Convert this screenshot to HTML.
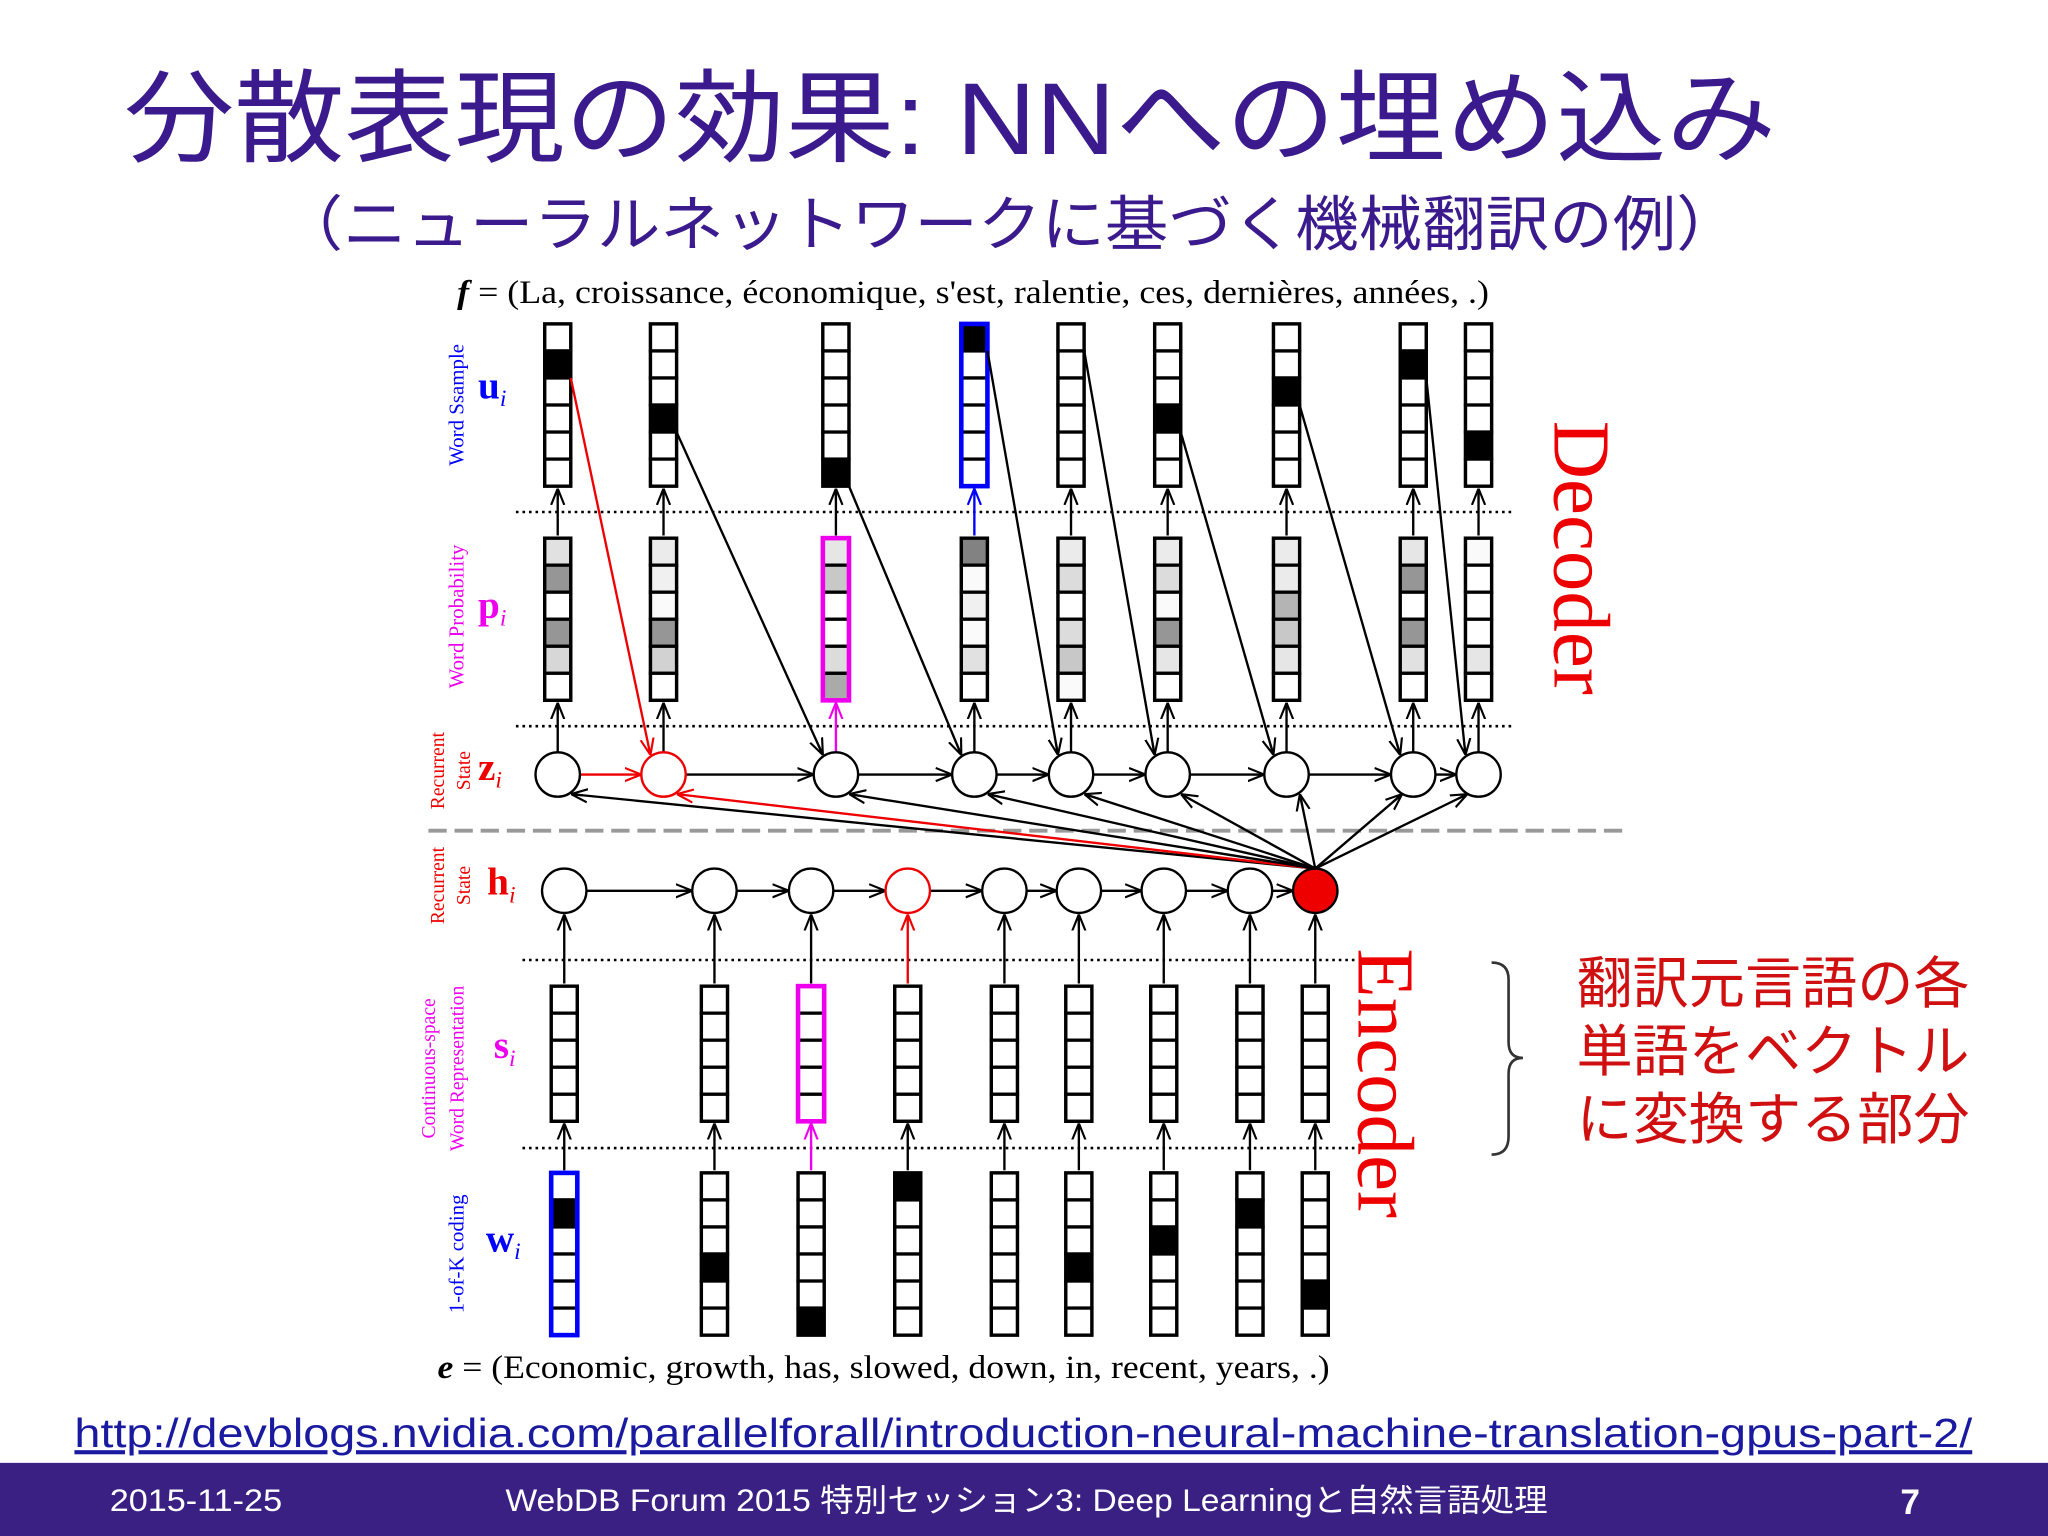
<!DOCTYPE html>
<html><head><meta charset="utf-8"><style>
html,body{margin:0;padding:0;background:#fff}
svg{display:block}
</style></head><body>
<svg id="s" width="2048" height="1536" viewBox="0 0 1568 1176" xmlns="http://www.w3.org/2000/svg">
<defs>
<marker id="ak" viewBox="0 0 10 10" refX="10" refY="5" markerWidth="7" markerHeight="7" orient="auto-start-reverse"><path d="M0,1 L10,5 L0,9 M10,5 L3,5" fill="none" stroke="#000" stroke-width="1.3"/></marker>
<marker id="ar" viewBox="0 0 10 10" refX="10" refY="5" markerWidth="7" markerHeight="7" orient="auto"><path d="M0,1 L10,5 L0,9" fill="none" stroke="#e00" stroke-width="1.3"/></marker>
<marker id="am" viewBox="0 0 10 10" refX="10" refY="5" markerWidth="7" markerHeight="7" orient="auto"><path d="M0,1 L10,5 L0,9" fill="none" stroke="#e0e" stroke-width="1.3"/></marker>
<marker id="ab" viewBox="0 0 10 10" refX="10" refY="5" markerWidth="7" markerHeight="7" orient="auto"><path d="M0,1 L10,5 L0,9" fill="none" stroke="#00f" stroke-width="1.3"/></marker>
</defs>
<text x="95" y="118" textLength="1265" lengthAdjust="spacingAndGlyphs" font-family="'Liberation Sans','Noto Sans CJK JP',sans-serif" font-size="78" fill="#3a1a8c">分散表現の効果: NNへの埋め込み</text>
<text x="214" y="188" textLength="1118" lengthAdjust="spacingAndGlyphs" font-family="'Liberation Sans','Noto Sans CJK JP',sans-serif" font-size="46" fill="#3a1a8c">（ニューラルネットワークに基づく機械翻訳の例）</text>
<text x="350" y="232" textLength="790" lengthAdjust="spacingAndGlyphs" font-family="'Liberation Serif',serif" font-size="25" fill="#000"><tspan font-style="italic" font-weight="bold">f</tspan> = (La, croissance, économique, s'est, ralentie, ces, dernières, années, .)</text>
<text x="335" y="1055" textLength="683" lengthAdjust="spacingAndGlyphs" font-family="'Liberation Serif',serif" font-size="25" fill="#000"><tspan font-style="italic" font-weight="bold">e</tspan> = (Economic, growth, has, slowed, down, in, recent, years, .)</text>
<line x1="328" y1="636" x2="1243" y2="636" stroke="#999" stroke-width="3" stroke-dasharray="14,6"/>
<g id="g"></g>
<text transform="translate(1190,322) rotate(90)" font-family="'Liberation Serif',serif" font-size="62" fill="#e00">Decoder</text>
<text transform="translate(1040,726) rotate(90)" font-family="'Liberation Serif',serif" font-size="62" fill="#e00">Encoder</text>
<path d="M1142,737 Q1155,737 1155,750 L1155,798 Q1155,810 1166,810 Q1155,810 1155,822 L1155,870 Q1155,884 1142,884" fill="none" stroke="#333" stroke-width="2"/>
<g font-family="'Liberation Sans','Noto Sans CJK JP',sans-serif" font-size="43" fill="#d01010">
<text x="1207" y="768">翻訳元言語の各</text><text x="1207" y="820">単語をベクトル</text><text x="1207" y="872">に変換する部分</text></g>
<text x="57" y="1108" textLength="1453" lengthAdjust="spacingAndGlyphs" font-family="'Liberation Sans',sans-serif" font-size="31.5" fill="#1a1aa0" text-decoration="underline">http://devblogs.nvidia.com/parallelforall/introduction-neural-machine-translation-gpus-part-2/</text>
<rect x="0" y="1120" width="1568" height="56" fill="#3b2084"/>
<text x="84" y="1157" textLength="132" lengthAdjust="spacingAndGlyphs" font-family="'Liberation Sans',sans-serif" font-size="24" fill="#fff">2015-11-25</text>
<text x="387" y="1157" textLength="798" lengthAdjust="spacingAndGlyphs" font-family="'Liberation Sans','Noto Sans CJK JP',sans-serif" font-size="24" fill="#fff">WebDB Forum 2015 特別セッション3: Deep Learningと自然言語処理</text>
<text x="1455" y="1159" font-family="'Liberation Sans',sans-serif" font-size="27" font-weight="bold" fill="#fff">7</text>
</svg>
<script>
const decX=[427,508,640,746,820,894,985,1082,1132];
const encX=[432,547,621,695,769,826,891,957,1007];
const uHot=[1,3,5,0,-1,3,2,1,4];
const wHot=[1,3,5,0,-1,3,2,1,4];
const pGray=[[225,150,255,150,215,255],[235,240,250,150,210,255],[230,200,255,255,220,170],[130,250,240,250,225,255],[235,220,255,220,200,250],[235,220,250,150,230,255],[235,235,180,200,230,255],[230,150,255,150,225,255],[250,255,255,255,230,255]];
const ns='http://www.w3.org/2000/svg', G=document.getElementById('g');
function el(t,a,p){const e=document.createElementNS(ns,t);for(const k in a)e.setAttribute(k,a[k]);(p||G).appendChild(e);return e;}
const W=20,CH=20.7,Z=593,H=682,R=17;
function col(x,y0,n,fills,stroke,sw,name){
  const g=el('g',{});
  
  
  for(let i=0;i<n;i++){el('rect',{x:x-W/2,y:y0+i*CH,width:W,height:CH,fill:fills[i],stroke:'#000','stroke-width':2.5},g);}
  el('rect',{x:x-W/2,y:y0,width:W,height:n*CH,fill:'none',stroke:stroke,'stroke-width':sw},g);
}
function line(x1,y1,x2,y2,c,m,name){const l=el('line',{x1,y1,x2,y2,stroke:c,'stroke-width':1.8,'marker-end':'url(#'+m+')'});
  
  }
[[392,395,1158],[556,395,1158],[735,400,1040],[879,400,1040]].forEach(d=>{const l=el('line',{x1:d[1],y1:d[0],x2:d[2],y2:d[0],stroke:'#000','stroke-width':2,'stroke-dasharray':'2,3'});
  
  });
const hub=[encX[8],H];
decX.forEach((x,i)=>{
  col(x,248,6,[0,1,2,3,4,5].map(k=>k===uHot[i]?'#000':'#fff'),i===3?'#00f':'#000',i===3?3.5:2.5,'word-sample-u'+i);
  col(x,412,6,pGray[i].map(v=>'rgb('+v+','+v+','+v+')'),i===2?'#e0e':'#000',i===2?3.5:2.5,'word-prob-p'+i);
  line(x,Z-R,x,538,i===2?'#e0e':'#000',i===2?'am':'ak','z-to-p-arrow');
  line(x,410,x,374,i===3?'#00f':'#000',i===3?'ab':'ak','p-to-u-arrow');
  if(i<8){const nx=decX[i+1];
    line(x+R,Z,nx-R,Z,i===0?'#e00':'#000',i===0?'ar':'ak','z-recurrent-arrow');
    if(uHot[i]>=0){const cy=248+(uHot[i]+1)*CH;line(x+W/2,cy,nx-10,Z-R+2,i===0?'#e00':'#000',i===0?'ar':'ak','feedback-arrow');}
    else {line(x+W/2,268,nx-10,Z-R+2,'#000','ak','feedback-arrow');}
  }
  line(hub[0],hub[1]-R,x+(x<hub[0]?R*0.6:-R*0.5),Z+R-2,i===1?'#e00':'#000',i===1?'ar':'ak','context-arrow');
  const c=el('ellipse',{cx:x,cy:Z,rx:R,ry:R,fill:'#fff',stroke:i===1?'#e00':'#000','stroke-width':1.8});
  
  
});
encX.forEach((x,i)=>{
  col(x,755,5,[0,1,2,3,4].map(()=>'#fff'),i===2?'#e0e':'#000',i===2?3.5:2.5,'word-rep-s'+i);
  col(x,898,6,[0,1,2,3,4,5].map(k=>k===wHot[i]?'#000':'#fff'),i===0?'#00f':'#000',i===0?3.5:2.5,'one-hot-w'+i);
  line(x,896,x,860,i===2?'#e0e':'#000',i===2?'am':'ak','w-to-s-arrow');
  line(x,753,x,H+R+1,i===3?'#e00':'#000',i===3?'ar':'ak','s-to-h-arrow');
  if(i<8)line(x+R,H,encX[i+1]-R,H,'#000','ak','h-recurrent-arrow');
  const c=el('ellipse',{cx:x,cy:H,rx:R,ry:R,fill:i===8?'#e00':'#fff',stroke:i===3?'#e00':'#000','stroke-width':1.8});
  
  
});
const labs=[[355,310,'Word Ssample','#00f',16],[355,472,'Word Probability','#e0e',16],[340,590,'Recurrent','#e00',15],[360,590,'State','#e00',15],[340,678,'Recurrent','#e00',15],[360,678,'State','#e00',15],[333,818,'Continuous-space','#e0e',15],[355,818,'Word Representation','#e0e',15],[355,960,'1-of-K coding','#00f',16]];
labs.forEach(l=>{const t=el('text',{transform:'translate('+l[0]+','+l[1]+') rotate(-90)','text-anchor':'middle','font-family':"'Liberation Serif',serif",'font-size':l[4],fill:l[3]});t.textContent=l[2];
  
  });
const vars=[[366,305,'u','#00f'],[366,473,'p','#e0e'],[366,597,'z','#e00'],[373,685,'h','#e00'],[378,810,'s','#e0e'],[372,958,'w','#00f']];
vars.forEach(v=>{const t=el('text',{x:v[0],y:v[1],'font-family':"'Liberation Serif',serif",'font-size':30,'font-weight':'bold',fill:v[3]});t.textContent=v[2];
  const s=el('tspan',{'font-size':18,'font-style':'italic','font-weight':'normal',dy:6},t);s.textContent='i';
  
  });
</script>
</body></html>
